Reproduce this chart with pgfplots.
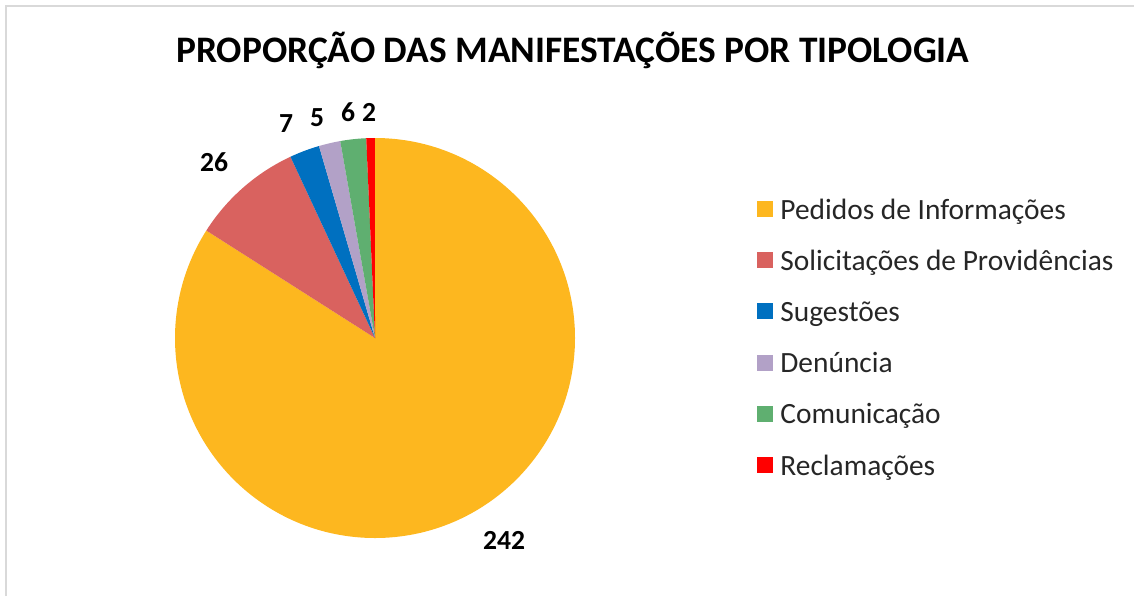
\documentclass[border=0pt]{standalone}
\usepackage{pgfplots}
\usepackage{pgfplotstable}
\pgfplotsset{compat=1.18}
\usepackage{fontspec}
\setmainfont{Carlito}
\definecolor{cA}{HTML}{FDB71F}
\definecolor{cB}{HTML}{D9625F}
\definecolor{cC}{HTML}{0070C0}
\definecolor{cD}{HTML}{B2A1C7}
\definecolor{cE}{HTML}{5FAF70}
\definecolor{cF}{HTML}{FF0000}
\definecolor{frame}{HTML}{D9D9D9}
\pgfplotstableread[col sep=comma]{
name,value,col,lx,ly
Pedidos de Informações,242,cA,504,540
Solicitações de Providências,26,cB,214,162
Sugestões,7,cC,286,124
Denúncia,5,cD,317,118
Comunicação,6,cE,348,112
Reclamações,2,cF,369,112
}\piedata
\begin{document}
\begin{tikzpicture}
\begin{axis}[hide axis, scale only axis, width=567pt, height=298pt,
  xmin=0, xmax=1134, ymin=0, ymax=596, y dir=reverse, clip=false]
\draw[frame, line width=1.2pt] (axis cs:6,596) -- (axis cs:6,6) -- (axis cs:1134,6);
\node[anchor=base, font=\fontsize{18.7}{22}\selectfont\bfseries, inner sep=0]
  at (axis cs:573,62) {PROPORÇÃO DAS MANIFESTAÇÕES POR TIPOLOGIA};
\gdef\total{0}
\pgfplotsinvokeforeach{0,...,5}{%
  \pgfplotstablegetelem{#1}{value}\of\piedata
  \pgfmathsetmacro\t{\total+\pgfplotsretval}\xdef\total{\t}}
\gdef\cum{90}
\pgfplotsinvokeforeach{0,...,5}{%
  \pgfplotstablegetelem{#1}{value}\of\piedata
  \edef\val{\pgfplotsretval}%
  \pgfmathsetmacro\e{\cum-\val/\total*360}%
  \pgfplotstablegetelem{#1}{col}\of\piedata
  \edef\col{\pgfplotsretval}%
  \pgfplotstablegetelem{#1}{name}\of\piedata
  \edef\nm{\pgfplotsretval}%
  \pgfplotstablegetelem{#1}{lx}\of\piedata
  \edef\lx{\pgfplotsretval}%
  \pgfplotstablegetelem{#1}{ly}\of\piedata
  \edef\lyy{\pgfplotsretval}%
  \pgfmathsetmacro\ly{219+51.2*#1}%
  \pgfmathsetmacro\sy{209+51.2*#1}%
  \edef\tmp{%
    \noexpand\fill[\col] (axis cs:375,338) -- ++(\cum:100pt) arc[start angle=\cum, end angle=\e, radius=100pt] -- cycle;
    \noexpand\node[fill=\col, minimum size=8pt, inner sep=0pt] at (axis cs:765,\sy) {};
    \noexpand\node[anchor=base west, inner sep=0pt, font=\noexpand\fontsize{14.7}{17}\noexpand\selectfont, text=black!85] at (axis cs:780,\ly) {\nm};
    \noexpand\node[font=\noexpand\fontsize{13.8}{16}\noexpand\selectfont\noexpand\bfseries, inner sep=0pt] at (axis cs:\lx,\lyy) {\val};
  }%
  \tmp
  \xdef\cum{\e}%
}
\end{axis}
\pgfresetboundingbox
\path (0,0) rectangle (567pt,298pt);
\end{tikzpicture}
\end{document}
